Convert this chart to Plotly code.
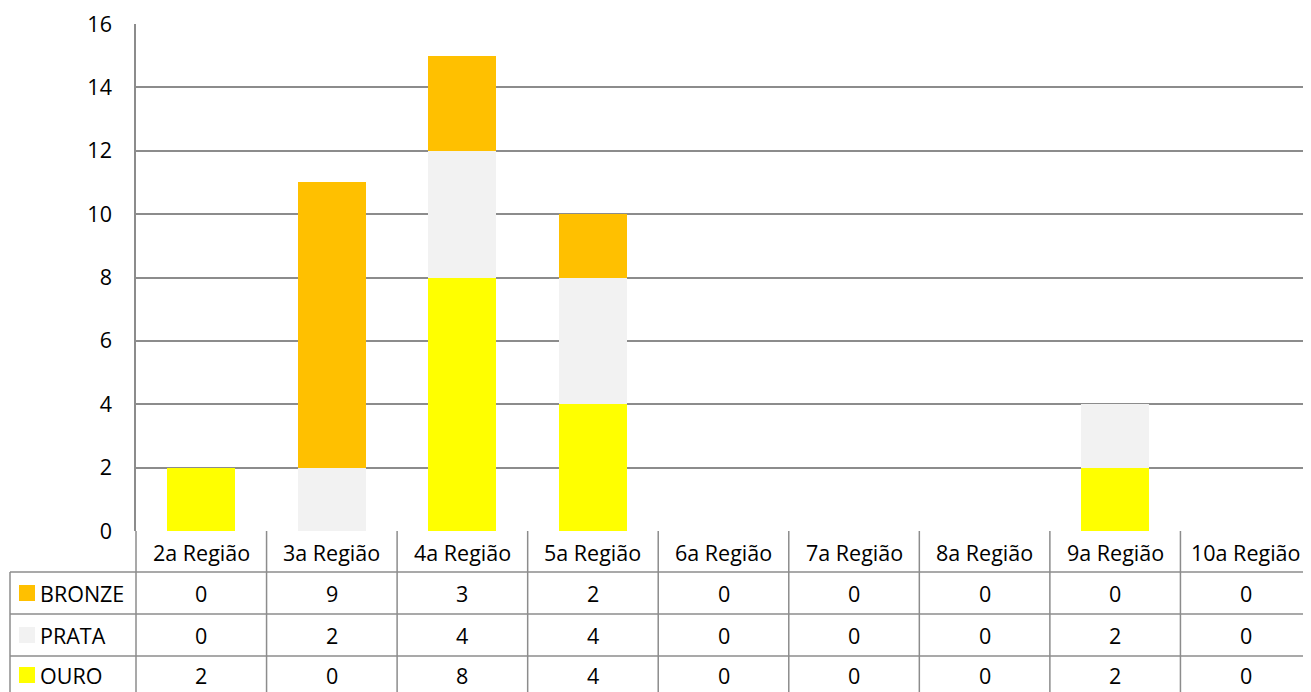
import plotly.graph_objects as go

categories = ["2a Região", "3a Região", "4a Região", "5a Região", "6a Região",
              "7a Região", "8a Região", "9a Região", "10a Região"]
bronze = [0, 9, 3, 2, 0, 0, 0, 0, 0]
prata = [0, 2, 4, 4, 0, 0, 0, 2, 0]
ouro = [2, 0, 8, 4, 0, 0, 0, 2, 0]
y_ticks = [0, 2, 4, 6, 8, 10, 12, 14, 16]

series = [("OURO", ouro, "#FFFF00"), ("PRATA", prata, "#F2F2F2"), ("BRONZE", bronze, "#FFC000")]
table_rows = [("BRONZE", bronze, "#FFC000"), ("PRATA", prata, "#F2F2F2"), ("OURO", ouro, "#FFFF00")]

# the page body has an 8px margin; figure sized to fill the rest of the window
OFF = 8
W, H = 1311 - OFF, 692 - OFF
L = 136 - OFF
T = 24 - OFF
B = H - (531 - OFF)
R = 0
plot_h = H - T - B
plot_w = W - L - R
FONT = "Open Sans"
FS = 21.5
GRID = "#8C8C8C"

def py2paper(py):
    # py given in window pixels
    return (H - B - (py - OFF)) / plot_h

def px2paper(px):
    return (px - OFF - L) / plot_w

fig = go.Figure()
for name, vals, col in series:
    fig.add_trace(go.Bar(x=categories, y=vals, name=name, marker=dict(color=col, line=dict(width=0)),
                         showlegend=False))

shapes = []
annotations = []

row_lines = [531, 572, 614, 656]
row_centers = [593, 635, 675]
header_center = 552

for ry in row_lines[1:]:
    shapes.append(dict(type="line", xref="paper", yref="paper", x0=px2paper(10), x1=1,
                       y0=py2paper(ry), y1=py2paper(ry), line=dict(color=GRID, width=1.5)))
shapes.append(dict(type="line", xref="paper", yref="paper", x0=px2paper(10), x1=px2paper(10),
                   y0=py2paper(572), y1=py2paper(692), line=dict(color=GRID, width=1.5)))
n = len(categories)
for k in range(1, n):
    shapes.append(dict(type="line", xref="x", yref="paper", x0=k - 0.5, x1=k - 0.5,
                       y0=py2paper(531), y1=py2paper(692), line=dict(color=GRID, width=1.5)))
shapes.append(dict(type="line", xref="paper", yref="paper", x0=0, x1=0,
                   y0=py2paper(531), y1=py2paper(692), line=dict(color=GRID, width=1.5)))

for c in categories:
    annotations.append(dict(x=c, xref="x", y=py2paper(header_center), yref="paper", text=c,
                            showarrow=False, font=dict(family=FONT, size=FS, color="#000000"),
                            xanchor="center", yanchor="middle"))
for (name, vals, col), cy in zip(table_rows, row_centers):
    shapes.append(dict(type="rect", xref="paper", yref="paper", x0=px2paper(19), x1=px2paper(35),
                       y0=py2paper(cy + 8), y1=py2paper(cy - 8), fillcolor=col, line=dict(width=0)))
    annotations.append(dict(x=px2paper(38), xref="paper", y=py2paper(cy), yref="paper", text=name,
                            showarrow=False, font=dict(family=FONT, size=FS, color="#000000"),
                            xanchor="left", yanchor="middle"))
    for c, v in zip(categories, vals):
        annotations.append(dict(x=c, xref="x", y=py2paper(cy), yref="paper", text=str(v),
                                showarrow=False, font=dict(family=FONT, size=FS, color="#000000"),
                                xanchor="center", yanchor="middle"))

fig.update_layout(
    width=W, height=H,
    margin=dict(l=L, r=R, t=T, b=B),
    paper_bgcolor="white", plot_bgcolor="white",
    barmode="stack", bargap=0.48,
    shapes=shapes, annotations=annotations,
    xaxis=dict(type="category", range=[-0.5, n - 0.5], showticklabels=False, showgrid=False,
               zeroline=False, showline=False, ticks=""),
    yaxis=dict(range=[0, 16], tickvals=y_ticks, showgrid=True, gridcolor=GRID, gridwidth=1.5,
               zeroline=False, showline=True, linecolor=GRID, linewidth=1.5, ticks="",
               ticklabelstandoff=18, tickfont=dict(family=FONT, size=FS, color="#000000")),
    font=dict(family=FONT, size=FS),
)

fig.write_html("out.html")
